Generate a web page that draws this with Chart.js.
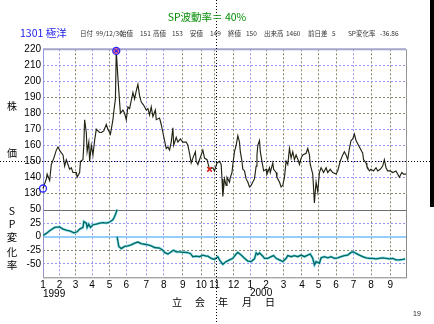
<!DOCTYPE html>
<html>
<head>
<meta charset="utf-8">
<script src="https://cdn.jsdelivr.net/npm/chart.js@4.4.1/dist/chart.umd.min.js"></script>
<style>
html, body { margin: 0; padding: 0; background: #fff; }
#wrap { position: relative; width: 434px; height: 324px; overflow: hidden; font-family: "Liberation Sans", "Noto Sans CJK JP", sans-serif; }
canvas { position: absolute; left: 0; top: 0; }
.t { position: absolute; white-space: nowrap; line-height: 1; }
.c { transform: translate(-50%, -50%); }
.m { transform: translateY(-50%); }
.info { font-size: 6.5px; color: #333; }
.jp { font-family: "Noto Sans CJK JP", sans-serif; }
</style>
</head>
<body>
<div id="wrap">
  <canvas id="spChart" width="434" height="324"></canvas>
  <canvas id="priceChart" width="434" height="324"></canvas>

  <div class="t c jp" style="left:207px;top:17px;font-size:10.5px;color:rgb(0,140,0)">SP波動率＝ 40%</div>
  <div class="t m jp" style="left:20px;top:33px;font-size:10.5px;color:rgb(25,25,235)">1301 極洋</div>
  <div id="infoRow"></div>

  <div class="t c jp" style="left:12px;top:106px;font-size:10px">株</div>
  <div class="t c jp" style="left:12px;top:153px;font-size:10px">価</div>
  <div id="spSide"></div>

  <div class="t m" style="left:43px;top:294px;font-size:10px">1999</div>
  <div class="t m" style="left:250px;top:293px;font-size:10px">2000</div>
  <div id="dateWord"></div>
  <div class="t c" style="left:417px;top:313px;font-size:7px;color:#222">19</div>
  <div style="position:absolute;left:430px;top:0;width:4px;height:207px;background:#000"></div>
</div>

<script>
// month ticks (trading-day index of the first session of each month)
const monthLabels = ['1','2','3','4','5','6','7','8','9','10','11','12','1','2','3','4','5','6','7','8','9'];
const monthStartDays = [0,20,39,59,80,100,124,145,168,190,206,229,249,268,289,311,331,352,373,394,417];
const lastDay = 436;

// closing price
const priceDays = [
  0,4,5,8,10,13,16,18,21,24, 26,28,32,34,36,40,41,44,45,48,
  49,50,52,53,55,56,58,60,62,64, 68,70,73,76,78,81,84,85,87,88,
  90,92,93,96,98,100,102,104,108,110, 112,114,116,118,121,124,126,128,130,132,
  135,136,140,142,144,146,148,150,152,154, 156,157,160,162,165,168,172,174,176,178,
  180,183,184,186,188,190,192,194,197,200, 204,206,209,212,214,215,216,218,220,221,
  224,225,227,228,230,232,234,236,237,239, 240,242,244,246,248,250,252,254,256,257,
  258,260,261,263,265,268,269,272,273,276, 277,280,281,284,286,288,290,292,294,296,
  298,300,302,304,307,308,310,312,316,318, 320,321,324,326,327,328,330,332,334,337,
  340,342,345,348,352,354,357,360,362,364, 366,368,370,372,374,376,378,381,384,385,
  388,389,392,394,397,400,402,405,408,410, 412,414,417,420,424,426,428,431,433,436
];
const priceValues = [
  133,139,142,138,148,152,157,159,156,154, 147,151,145,146,143,143,140,143,150,151,
  160,176,168,156,162,150,160,154,163,170, 168,168,169,173,170,167,176,181,189,219,
  202,187,180,182,180,176,184,183,193,189, 194,198,191,187,185,182,183,179,184,178,
  182,176,177,173,168,163,158,159,157,162, 171,160,165,162,164,162,162,160,155,149,
  152,156,150,148,151,154,157,152,151,145, 146,144,149,150,148,139,128,139,135,140,
  137,140,143,148,156,160,166,162,156,150, 145,144,139,137,134,135,137,139,147,154,
  160,163,156,150,144,145,142,146,143,149, 145,143,140,137,134,135,140,150,148,158,
  152,156,151,154,150,148,152,154,155,158, 154,148,142,124,131,137,131,143,146,143,
  146,143,145,143,142,144,150,154,156,154, 151,158,163,164,167,163,161,158,155,151,
  149,147,144,145,144,146,144,145,147,151, 146,144,144,143,144,142,140,143,142,142
];

// SP change rate (%), null = reset after the 50% touch
const spDays = [
  0,4,8,14,20,24,28,33,37,41, 44,48,49,52,53,55,57,60,64,68,
  72,76,80,84,86,88,89,89,89,91, 94,98,102,106,110,114,118,122,126,130,
  134,140,144,146,150,154,157,160,164,168, 172,177,180,184,188,192,196,198,202,206,
  210,212,216,220,224,228,232,234,238,242, 246,250,254,256,258,260,264,266,270,274,
  277,280,284,288,292,294,298,302,306,310, 314,318,321,324,326,328,332,334,338,342,
  346,350,354,358,362,366,370,373,376,380, 384,388,392,396,400,404,408,412,416,420,
  424,428,432,435
];
const spValues = [
  2,6,11,17,18,14,12,10,7,9, 14,17,28,25,17,23,17,22,23,25,
  26,25,27,31,37,45,50,null,0,-18, -22,-18,-17,-15,-12,-10,-13,-14,-15,-17,
  -20,-21,-25,-29,-32,-28,-25,-28,-28,-29, -29,-31,-37,-36,-37,-34,-36,-36,-40,-42,
  -37,-43,-51,-46,-43,-40,-32,-29,-34,-40, -45,-46,-41,-30,-33,-30,-36,-40,-40,-37,
  -35,-40,-43,-46,-40,-35,-37,-35,-37,-34, -37,-34,-32,-40,-52,-46,-49,-39,-37,-39,
  -37,-40,-39,-37,-35,-34,-29,-28,-31,-34, -37,-39,-40,-40,-41,-40,-39,-40,-41,-40,
  -43,-43,-42,-41
];
const spTicks = [50, 25, 0, -25, -50];

// start, peak and cursor marks
const markerDays = [0, 88, 200];
const markerValues = [133, 219, 145];
const cursorDay = 208;
const cursorPrice = 150;

const infoItems = [
  ['日付',80],['99/12/30',96],['始値',120],['151',140],['高値',153],['153',172],
  ['安値',190],['149',210],['終値',228],['150',246],['出来高',264],['1460',286],
  ['前日差',308],['5',332],['SP変化率',348],['-36.86',380]
];
const spSideChars = [['S',211],['P',223.5],['変',237],['化',251.5],['率',264.5]];
const dateChars = [['立',177],['会',200],['年',223],['月',247],['日',270]];

function addText(parentId, items, cls, x, y, size) {
  const p = document.getElementById(parentId);
  items.forEach(function (it) {
    const d = document.createElement('div');
    d.className = cls;
    d.textContent = it[0];
    d.style.left = (x === null ? it[1] : x) + 'px';
    d.style.top = (y === null ? it[1] : y) + 'px';
    if (size) d.style.fontSize = size + 'px';
    p.appendChild(d);
  });
}
addText('infoRow', infoItems, 't m info jp', null, 32.5);
addText('spSide', spSideChars, 't c jp', 12, null, 10.5);
addText('dateWord', dateChars, 't c jp', null, 302, 10);

Chart.defaults.font.family = '"Liberation Sans", sans-serif';
Chart.defaults.font.size = 10;
Chart.defaults.color = '#000';

const LAV = 'rgb(150,150,240)';
const GRAY = 'rgb(135,135,110)';
const lavMonths = [1, 3, 5, 6, 7, 12, 18];

function toXY(xs, ys) {
  return xs.map(function (x, i) { return { x: x, y: ys[i] }; });
}
function hLine(ctx, x0, x1, y, color, w, dash) {
  ctx.beginPath();
  ctx.setLineDash(dash || []);
  ctx.strokeStyle = color;
  ctx.lineWidth = w;
  ctx.moveTo(x0, y); ctx.lineTo(x1, y);
  ctx.stroke();
}
function vLine(ctx, x, y0, y1, color, w, dash) {
  ctx.beginPath();
  ctx.setLineDash(dash || []);
  ctx.strokeStyle = color;
  ctx.lineWidth = w;
  ctx.moveTo(x, y0); ctx.lineTo(x, y1);
  ctx.stroke();
}

function monthGridColor(c) {
  if (c.index === 0) return 'rgba(0,0,0,0)';
  return lavMonths.indexOf(c.index) >= 0 ? LAV : GRAY;
}
function monthTicks(s) {
  s.ticks = monthStartDays.map(function (v) { return { value: v }; });
}

const priceFrame = {
  id: 'priceFrame',
  beforeDatasetsDraw(chart) {
    const { ctx, chartArea: a, scales } = chart;
    ctx.save();
    hLine(ctx, a.left, a.right, scales.y.getPixelForValue(220), 'rgb(165,165,205)', 2);
    vLine(ctx, a.left + 0.5, a.top, a.bottom, 'rgb(150,150,225)', 1);
    vLine(ctx, a.right + 0.5, a.top, a.bottom, 'rgb(150,150,150)', 1);
    ctx.restore();
  }
};

const cursorLines = {
  id: 'cursorLines',
  afterDraw(chart) {
    const { ctx, scales } = chart;
    const x = Math.round(scales.x.getPixelForValue(cursorDay)) + 0.5;
    const y = Math.round(scales.y.getPixelForValue(cursorPrice)) + 0.5;
    ctx.save();
    vLine(ctx, x, 0, chart.height, '#000', 1, [1, 2]);
    hLine(ctx, 0, chart.width, y, '#000', 1, [1, 2]);
    ctx.restore();
  }
};

const spFrame = {
  id: 'spFrame',
  beforeDatasetsDraw(chart) {
    const { ctx, chartArea: a, scales } = chart;
    ctx.save();
    hLine(ctx, a.left, a.right, Math.round(scales.y.getPixelForValue(50)) + 0.5, 'rgb(110,110,110)', 1);
    hLine(ctx, a.left, a.right, Math.round(scales.y.getPixelForValue(0)), 'rgb(150,205,250)', 2);
    vLine(ctx, a.left + 0.5, a.top, a.bottom, 'rgb(150,150,200)', 1);
    vLine(ctx, a.right + 0.5, a.top, a.bottom, 'rgb(140,140,140)', 1);
    hLine(ctx, a.left, a.right + 1, a.bottom + 0.5, 'rgb(130,130,130)', 1);
    ctx.restore();
  }
};

new Chart(document.getElementById('priceChart'), {
  type: 'line',
  data: {
    datasets: [
      { data: toXY(priceDays, priceValues), borderColor: 'rgb(35,35,20)', borderWidth: 1.15,
        pointRadius: 0, tension: 0, clip: false, order: 3 },
      { data: [{ x: markerDays[0], y: markerValues[0] }], showLine: false, pointStyle: 'circle',
        pointRadius: 3.5, borderColor: 'rgb(40,40,255)', backgroundColor: 'rgba(255,255,255,0)',
        borderWidth: 1.3, clip: false, order: 2 },
      { data: [{ x: markerDays[1], y: markerValues[1] }], showLine: false, pointStyle: 'circle',
        pointRadius: 3.5, borderColor: 'rgb(40,40,255)', backgroundColor: 'rgb(245,110,130)',
        borderWidth: 1.3, clip: false, order: 2 },
      { data: [{ x: markerDays[1], y: markerValues[1] }], showLine: false, pointStyle: 'crossRot',
        pointRadius: 2.5, borderColor: 'rgb(40,40,255)', borderWidth: 1.2, clip: false, order: 1 },
      { data: [{ x: markerDays[2], y: markerValues[2] }], showLine: false, pointStyle: 'crossRot',
        pointRadius: 3.2, borderColor: 'rgb(225,30,30)', borderWidth: 1.6, clip: false, order: 1 }
    ]
  },
  options: {
    responsive: false,
    animation: false,
    layout: { padding: { left: 0, right: 28, top: 49.3, bottom: 130.7 } },
    plugins: { legend: { display: false }, tooltip: { enabled: false } },
    scales: {
      x: {
        type: 'linear', min: 0, max: lastDay,
        afterBuildTicks: monthTicks,
        ticks: { display: false },
        grid: { drawTicks: false, color: monthGridColor },
        border: { display: false, dash: [2, 2] },
        afterFit: function (s) { s.height = 0; }
      },
      y: {
        min: 130, max: 220,
        ticks: { stepSize: 10, padding: 2, color: '#000' },
        grid: {
          drawTicks: false,
          color: function (c) {
            const v = c.tick.value;
            if (v === 220) return 'rgba(0,0,0,0)';
            return (v === 190 || v === 180 || v === 130) ? GRAY : LAV;
          }
        },
        border: { display: false, dash: [2, 2] },
        afterFit: function (s) { s.width = 43; }
      }
    }
  },
  plugins: [priceFrame, cursorLines]
});

new Chart(document.getElementById('spChart'), {
  type: 'line',
  data: {
    datasets: [
      { data: toXY(spDays, spValues), borderColor: 'rgb(0,105,95)', borderWidth: 1.3,
        pointRadius: 0, tension: 0, spanGaps: false, order: 1 },
      { data: toXY(spDays, spValues), borderColor: 'rgba(120,215,235,0.85)', borderWidth: 2.6,
        pointRadius: 0, tension: 0, spanGaps: false, order: 2 }
    ]
  },
  options: {
    responsive: false,
    animation: false,
    layout: { padding: { left: 0, right: 28, top: 193.3, bottom: 26.7 } },
    plugins: { legend: { display: false }, tooltip: { enabled: false } },
    scales: {
      x: {
        type: 'linear', min: 0, max: lastDay,
        afterBuildTicks: monthTicks,
        ticks: {
          autoSkip: false, maxRotation: 0, padding: 1.5, color: '#000',
          callback: function (v, i) { return monthLabels[i]; }
        },
        grid: { drawTicks: false, color: monthGridColor },
        border: { display: false, dash: [2, 2] },
        afterFit: function (s) { s.height = 20; }
      },
      y: {
        min: -75, max: 80,
        afterBuildTicks: function (s) { s.ticks = spTicks.map(function (v) { return { value: v }; }); },
        ticks: { padding: 2, color: '#000' },
        grid: {
          drawTicks: false,
          color: function (c) {
            const v = c.tick.value;
            if (v === 50 || v === 0) return 'rgba(0,0,0,0)';
            return v === -25 ? GRAY : LAV;
          }
        },
        border: { display: false, dash: [2, 2] },
        afterFit: function (s) { s.width = 43; }
      }
    }
  },
  plugins: [spFrame]
});
</script>
</body>
</html>
